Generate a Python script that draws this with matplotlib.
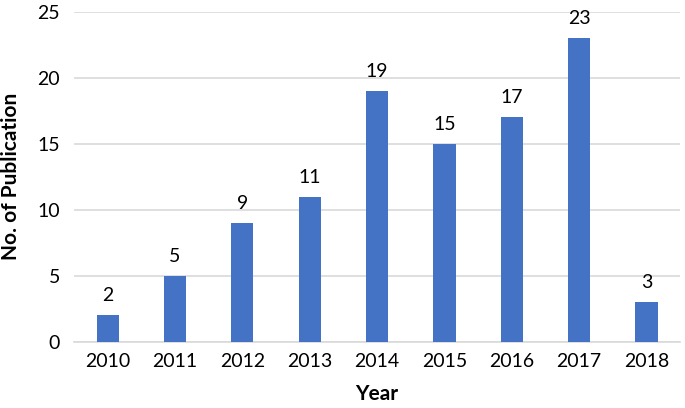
import matplotlib
matplotlib.use("Agg")
import matplotlib.pyplot as plt

years = ["2010", "2011", "2012", "2013", "2014", "2015", "2016", "2017", "2018"]
counts = [2, 5, 9, 11, 19, 15, 17, 23, 3]
yticks = [0, 5, 10, 15, 20, 25]

plt.rcParams['font.family'] = ['Lato', 'DejaVu Sans']

fig = plt.figure(figsize=(6.85, 4.08), dpi=100)
ax = fig.add_axes([0.108, 0.162, 0.885, 0.809])

x = list(range(len(years)))
bars = ax.bar(x, counts, width=0.33, color='#4472C4', zorder=3)
for xi, v in zip(x, counts):
    ax.annotate(str(v), (xi, v), xytext=(0, 8), textcoords='offset points',
                ha='center', va='bottom', fontsize=14, color='#000000')

ax.set_xlim(-0.5, len(years) - 0.5)
ax.set_ylim(0, 25)
ax.set_yticks(yticks)
ax.set_yticklabels([str(t) for t in yticks])
ax.set_xticks(x)
ax.set_xticklabels(years)
ax.tick_params(axis='both', length=0, labelsize=14, colors='#000000')
ax.tick_params(axis='y', pad=10)
ax.tick_params(axis='x', pad=8)

ax.grid(axis='y', color='#d9d9d9', linewidth=1.2, zorder=0)
for s in ['top', 'right', 'left']:
    ax.spines[s].set_visible(False)
ax.spines['bottom'].set_color('#d9d9d9')
ax.spines['bottom'].set_linewidth(1.2)

ax.set_ylabel("No. of Publication", fontsize=15, fontweight='bold', labelpad=12)
ax.set_xlabel("Year", fontsize=15, fontweight='bold', labelpad=10)

fig.savefig("out.png", dpi=100)
